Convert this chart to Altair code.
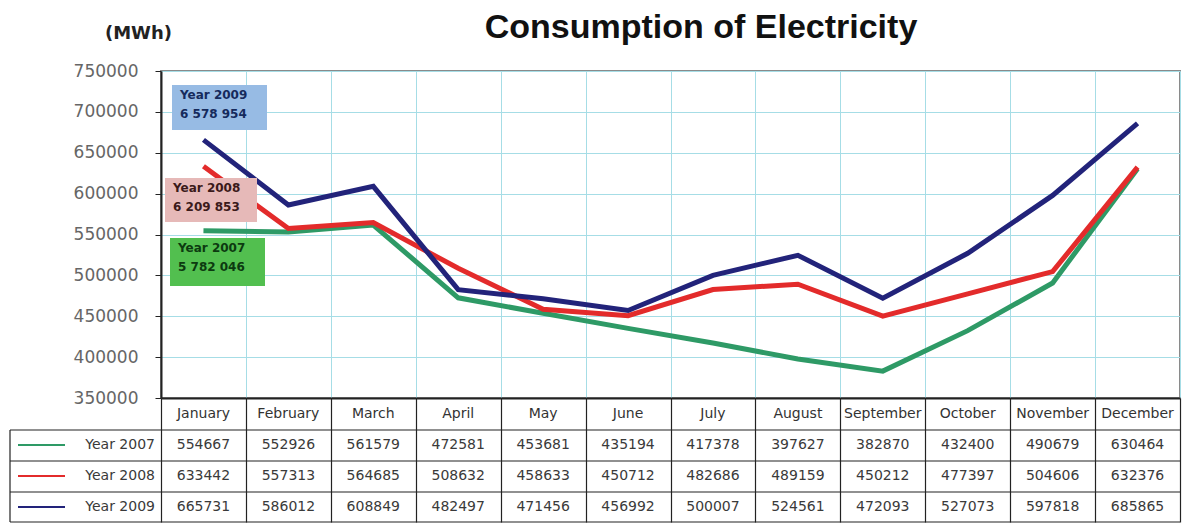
import altair as alt
import pandas as pd

# Monthly electricity consumption (MWh)
months = ["January", "February", "March", "April", "May", "June", "July",
          "August", "September", "October", "November", "December"]
years = ["Year 2007", "Year 2008", "Year 2009"]
y2007 = [554667, 552926, 561579, 472581, 453681, 435194, 417378, 397627,
         382870, 432400, 490679, 630464]
y2008 = [633442, 557313, 564685, 508632, 458633, 450712, 482686, 489159,
         450212, 477397, 504606, 632376]
y2009 = [665731, 586012, 608849, 482497, 471456, 456992, 500007, 524561,
         472093, 527073, 597818, 685865]

line_colors = ["#2e9a66", "#e32b2b", "#22237a"]
box_fills = ["#52bf4f", "#e6b9b8", "#97bbe4"]
box_text = ["#0c3a10", "#3b1a1a", "#152a5c"]

series = dict(zip(years, [y2007, y2008, y2009]))
df = pd.DataFrame([
    {"year": yr, "month": m, "value": v}
    for yr, vals in series.items() for m, v in zip(months, vals)
])

W, H = 1019, 327
FONT = "DejaVu Sans"
GRID = "#a6dde6"
DARK = "#222222"

x_axis = alt.Axis(labels=False, title=None, ticks=True, tickBand="extent",
                  tickSize=124, tickColor=DARK, tickWidth=1.2,
                  domainColor=DARK, domainWidth=2,
                  grid=True, gridColor=GRID, gridWidth=1)
x_scale = alt.Scale(domain=months, paddingInner=0, paddingOuter=0)


def xenc():
    return alt.X("month:N", sort=months, scale=x_scale, axis=x_axis)


lines = alt.Chart(df).mark_line(strokeWidth=5).encode(
    x=xenc(),
    y=alt.Y("value:Q",
            scale=alt.Scale(domain=[350000, 750000], nice=False, zero=False),
            axis=alt.Axis(values=list(range(350000, 750001, 50000)), format="d",
                          labelFont=FONT, labelFontSize=17, labelColor="#666666",
                          labelPadding=17, tickSize=6, tickColor=DARK,
                          domainColor=DARK, domainWidth=2,
                          grid=True, gridColor=GRID, gridWidth=1,
                          title="(MWh)", titleAngle=0, titleX=-23, titleY=-38,
                          titleAlign="center", titleBaseline="middle",
                          titleFont=FONT, titleFontSize=18,
                          titleFontWeight="bold", titleColor=DARK)),
    color=alt.Color("year:N", scale=alt.Scale(domain=years, range=line_colors),
                    legend=None),
)

# Data table under the plot
row_top = [327, 359, 390, 421, 451]
row_mid = [343, 374, 405, 436]

header = alt.Chart(pd.DataFrame({"month": months})).mark_text(
    font=FONT, fontSize=14, color="#333333", baseline="middle"
).encode(x=xenc(), y=alt.value(row_mid[0]), text="month:N")

layers = [lines, header]

for yt in row_top[1:]:
    layers.append(alt.Chart(pd.DataFrame({"k": [0]})).mark_rule(
        color=DARK, strokeWidth=1.2
    ).encode(x=alt.value(-151), x2=alt.value(W), y=alt.value(yt)))

layers.append(alt.Chart(pd.DataFrame({"k": [0]})).mark_rule(
    color=DARK, strokeWidth=1.2
).encode(x=alt.value(-151), y=alt.value(row_top[1]), y2=alt.value(row_top[-1])))

for i, yr in enumerate(years):
    yc = row_mid[i + 1]
    layers.append(alt.Chart(df).transform_filter(
        alt.datum.year == yr
    ).mark_text(font=FONT, fontSize=14, color="#3a3a3a", baseline="middle").encode(
        x=xenc(), y=alt.value(yc), text="value:Q"))
    layers.append(alt.Chart(pd.DataFrame({"year": [yr]})).mark_rule(
        color=line_colors[i], strokeWidth=2
    ).encode(x=alt.value(-143), x2=alt.value(-96), y=alt.value(yc)))
    layers.append(alt.Chart(pd.DataFrame({"year": [yr]})).mark_text(
        font=FONT, fontSize=14, color="#3a3a3a", align="right", baseline="middle"
    ).encode(x=alt.value(-6), y=alt.value(yc), text="year:N"))

# Annual totals in coloured boxes
totals = [sum(v) for v in (y2007, y2008, y2009)]
boxes = {"Year 2007": (9, 104, 167, 215),
         "Year 2008": (4, 96, 107, 151),
         "Year 2009": (11, 106, 14, 59)}
for i, yr in enumerate(years):
    x1, x2, t, b = boxes[yr]
    label = f"{yr}\n{totals[i]:,}".replace(",", " ")
    lab_df = pd.DataFrame({"label": [label]})
    layers.append(alt.Chart(lab_df).mark_rect(fill=box_fills[i]).encode(
        x=alt.value(x1), x2=alt.value(x2), y=alt.value(t), y2=alt.value(b)))
    layers.append(alt.Chart(lab_df).mark_text(
        font=FONT, fontSize=12, fontWeight="bold", color=box_text[i],
        align="left", baseline="top", lineBreak="\n", lineHeight=19
    ).encode(x=alt.value(x1 + 8), y=alt.value(t + 5), text="label:N"))

title = alt.Chart(pd.DataFrame({"t": ["Consumption of Electricity"]})).mark_text(
    font="Liberation Sans", fontSize=34, fontWeight="bold", color="#111111",
    baseline="middle"
).encode(x=alt.value(540), y=alt.value(-43), text="t:N")
layers.append(title)

chart = alt.layer(*layers).properties(
    width=W, height=H,
    autosize=alt.AutoSizeParams(type="none"),
    padding={"left": 161, "top": 71, "right": 3, "bottom": 126},
    background="white",
).configure_view(stroke="#8a8a8a", strokeWidth=2)

chart.save("out.html", embed_options={"renderer": "svg", "actions": False})
